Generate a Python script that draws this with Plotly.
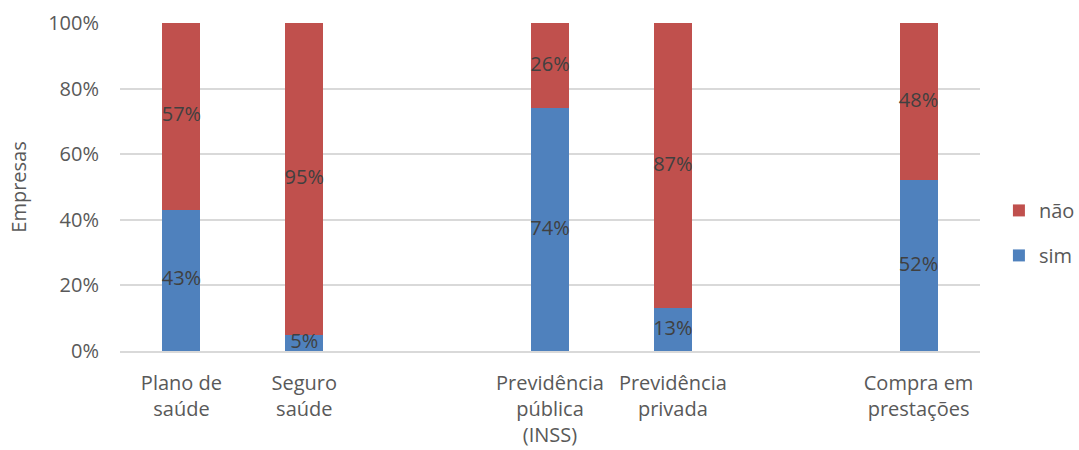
import plotly.graph_objects as go

categories = ["Plano de<br>saúde", "Seguro<br>saúde", " ",
              "Previdência<br>pública<br>(INSS)", "Previdência<br>privada", "  ",
              "Compra em<br>prestações"]
sim = [43, 5, None, 74, 13, None, 52]
nao = [57, 95, None, 26, 87, None, 48]

BLUE = "#4F81BD"
RED = "#C0504D"
FONT = "Open Sans"
FS = 20

fig = go.Figure()
fig.add_bar(x=categories, y=sim, name="sim", legendgroup="sim", legendrank=2,
            marker=dict(color=BLUE, line=dict(width=0)), width=0.31)
fig.add_bar(x=categories, y=nao, name="não", legendgroup="nao", legendrank=1,
            marker=dict(color=RED, line=dict(width=0)), width=0.31)

# data labels centered in each segment
sim_mid = [v / 2 if v is not None else None for v in sim]
nao_mid = [(s + n / 2) if (s is not None and n is not None) else None for s, n in zip(sim, nao)]
sim_txt = [f"{v}%" if v is not None else "" for v in sim]
nao_txt = [f"{v}%" if v is not None else "" for v in nao]
for mids, txt in ((sim_mid, sim_txt), (nao_mid, nao_txt)):
    fig.add_scatter(x=categories, y=mids, text=txt, mode="text", showlegend=False,
                    textposition="middle center", hoverinfo="skip",
                    textfont=dict(family=FONT, size=FS, color="#404040"))

fig.update_layout(
    barmode="stack",
    width=1079, height=450,
    margin=dict(l=120, r=99, t=23, b=99, autoexpand=False),
    paper_bgcolor="white", plot_bgcolor="white",
    font=dict(family=FONT, size=FS, color="#595959"),
    legend=dict(x=1.022, y=0.36, xanchor="left", yanchor="middle",
                traceorder="grouped", font=dict(size=FS, color="#595959"),
                itemwidth=30, tracegroupgap=16),
    showlegend=True,
)
fig.update_yaxes(range=[0, 100], tickvals=[0, 20, 40, 60, 80, 100],
                 ticktext=["0%", "20%", "40%", "60%", "80%", "100%"],
                 showgrid=True, gridcolor="#D9D9D9", gridwidth=1.5,
                 zeroline=False, showline=False, ticklabelstandoff=20,
                 automargin=False,
                 title=dict(text="Empresas", standoff=16, font=dict(size=FS, color="#595959")))
fig.update_xaxes(showline=True, linecolor="#D9D9D9", linewidth=1.5, ticks="",
                 ticklabelstandoff=13, tickangle=0, automargin=False)

fig.write_html("out.html", config={"displayModeBar": False},
               post_script="document.body.style.margin='0';")
